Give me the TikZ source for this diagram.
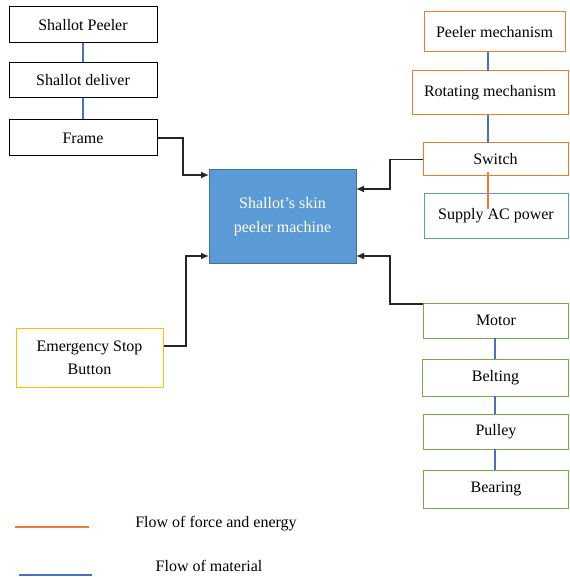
\documentclass[tikz,border=0pt]{standalone}
\usepackage{fontspec}
\setmainfont{Liberation Serif}
\usetikzlibrary{arrows.meta}
\definecolor{orng}{HTML}{ED7D31}
\definecolor{blu}{HTML}{4472C4}
\definecolor{lblu}{HTML}{5B9BD5}
\definecolor{grn}{HTML}{70AD47}
\definecolor{ylw}{HTML}{FFC000}
\definecolor{dblu}{HTML}{41719C}
\tikzset{
  box/.style={draw, line width=1pt, inner sep=0pt, font=\fontsize{16}{18}\selectfont, align=center},
  blackbox/.style={box, draw=black},
  orbox/.style={box, draw=orng},
  grbox/.style={box, draw=grn},
  mat/.style={draw=blu, line width=2pt},
  energy/.style={draw=orng, line width=2pt},
  conn/.style={draw=black!85, line width=1.5pt},
  arr/.style={conn, -{Latex[length=8pt,width=7pt]}},
}
\begin{document}
\begin{tikzpicture}[x=1pt,y=-1pt]
\useasboundingbox (0,0) rectangle (569,577);
% left column
\node[blackbox, minimum width=148pt, minimum height=36pt] (peeler) at (83,25) {Shallot Peeler};
\node[blackbox, minimum width=148pt, minimum height=35pt] (deliver) at (83,80.5) {Shallot deliver};
\node[blackbox, minimum width=148pt, minimum height=36pt] (frame) at (83,138) {Frame};
\draw[mat] (peeler.south) -- (deliver.north);
\draw[mat] (deliver.south) -- (frame.north);
% right top column
\node[orbox, minimum width=141pt, minimum height=40pt] (pmech) at (494.5,32) {Peeler mechanism};
\node[orbox, minimum width=156pt, minimum height=44pt] (rmech) at (490,93) {Rotating mechanism};
\node[orbox, minimum width=145pt, minimum height=33pt] (switch) at (495.5,159.5) {Switch};
\node[box, draw=lblu, minimum width=144pt, minimum height=44pt] (supply) at (496,216) {Supply AC power};
\coordinate (p1) at (488,52);
\coordinate (p2) at (488,71);
\coordinate (p3) at (488,115);
\coordinate (p4) at (488,143);
\draw[mat] (p1) -- (p2);
\draw[mat] (p3) -- (p4);
\coordinate (s1) at (488,172);
\coordinate (s2) at (488,209);
\draw[energy] (s1) -- (s2);
% center
\node[draw=dblu, line width=1pt, fill=lblu, minimum width=147pt, minimum height=93pt, text=white, align=center, font=\fontsize{16}{24}\selectfont] (center) at (282.5,216.5) {Shallot’s skin\\peeler machine};
% emergency
\node[box, draw=ylw, minimum width=147pt, minimum height=59pt, font=\fontsize{16}{23}\selectfont] (estop) at (89.5,357.5) {Emergency Stop\\Button};
% right bottom column
\node[grbox, minimum width=145pt, minimum height=35pt] (motor) at (496,320.5) {Motor};
\node[grbox, minimum width=146pt, minimum height=37pt] (belt) at (495.5,377.5) {Belting};
\node[grbox, minimum width=145pt, minimum height=35pt] (pulley) at (496,431.5) {Pulley};
\node[grbox, minimum width=145pt, minimum height=38pt] (bearing) at (496,489) {Bearing};
\coordinate (b1) at (495,338);
\coordinate (b2) at (495,359);
\coordinate (b3) at (495,396);
\coordinate (b4) at (495,414);
\coordinate (b5) at (495,449);
\coordinate (b6) at (495,470);
\draw[mat] (b1) -- (b2);
\draw[mat] (b3) -- (b4);
\draw[mat] (b5) -- (b6);
% connectors to center
\coordinate (cf) at (209,175);
\draw[arr] (frame.east) -- (183,138) -- (183,175) -- (cf);
\coordinate (cs) at (356,189);
\draw[arr] (switch.west) -- (390,159.5) -- (390,189) -- (cs);
\coordinate (ce) at (209,256);
\draw[arr] (estop.east |- 0,346) -- (186,346) -- (186,256) -- (ce);
\coordinate (cm) at (356,256);
\draw[arr] (motor.west |- 0,304) -- (390,304) -- (390,256) -- (cm);
% legend
\coordinate (l1) at (15,527);
\coordinate (l2) at (89,527);
\draw[energy] (l1) -- (l2);
\node[font=\fontsize{16}{18}\selectfont] (lt1) at (216,524) {Flow of force and energy};
\coordinate (l3) at (19,575);
\coordinate (l4) at (92,575);
\draw[mat] (l3) -- (l4);
\node[font=\fontsize{16}{18}\selectfont] (lt2) at (209,566) {Flow of material};
\end{tikzpicture}
\end{document}
